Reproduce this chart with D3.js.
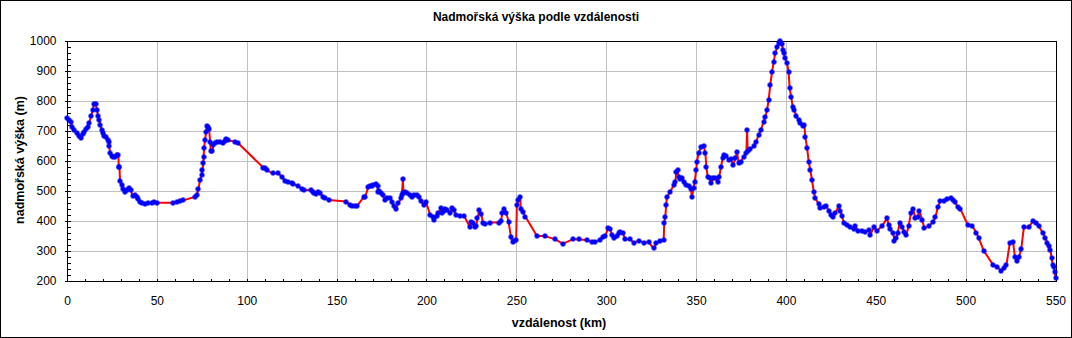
<!DOCTYPE html>
<html>
<head>
<meta charset="utf-8">
<script src="https://cdn.jsdelivr.net/npm/d3@7"></script>
<style>
  html, body { margin: 0; padding: 0; background: #fff; }
  svg { display: block; }
  text { font-family: "Liberation Sans", Arial, sans-serif; fill: #000; }
</style>
</head>
<body>
<svg id="chart" width="1072" height="338"></svg>
<script>
// Elevation profile: distance along the route (km) and altitude (m)
const distanceKm = [
  0, 1.1, 2.2, 3.0, 3.9, 5.4, 6.7, 7.6, 8.7, 9.6, 10.6, 11.5, 12.4, 13.4, 14.3, 15.0, 16.0, 16.7, 17.3, 18.0,
  18.6, 19.3, 19.9, 20.8, 21.7, 22.6, 23.2, 23.4, 24.0, 24.9, 25.8, 26.7, 27.6, 28.6, 28.8, 29.2, 29.5, 30.4, 31.4, 32.3,
  33.2, 34.5, 35.4, 36.6, 37.9, 38.8, 39.7, 40.6, 41.6, 43.4, 45.3, 47.1, 48.6, 49.9, 59.2, 61.0, 62.9, 64.8, 71.3, 72.2,
  73.1, 74.0, 75.0, 75.3, 75.9, 76.0, 76.3, 76.8, 77.4, 78.0, 78.5, 79.1, 79.6, 80.0, 80.9, 81.5, 82.4, 83.3, 85.2, 87.0,
  87.9, 88.5, 89.8, 93.5, 95.0, 109.3, 110.2, 111.1, 114.5, 117.6, 119.5, 121.4, 123.2, 125.1, 125.6, 128.4, 130.6, 131.6, 135.6, 136.8,
  137.7, 138.6, 139.5, 140.8, 142.7, 143.6, 145.8, 155.3, 157.5, 158.5, 160.3, 161.3, 165.0, 165.9, 167.7, 168.7, 169.6, 170.5, 171.8, 172.8,
  172.9, 173.5, 174.6, 175.7, 177.0, 178.3, 179.8, 180.7, 181.7, 183.0, 184.4, 185.7, 186.3, 186.9, 187.2, 188.2, 189.1, 191.0, 191.9, 192.8,
  194.7, 196.0, 196.9, 198.4, 199.7, 202.1, 203.4, 204.3, 205.8, 206.7, 208.0, 208.6, 209.5, 210.4, 211.4, 213.2, 214.1, 215.1, 216.5, 218.8,
  221.0, 224.0, 224.9, 225.8, 226.8, 227.7, 228.4, 229.4, 230.5, 231.4, 232.7, 235.1, 240.1, 241.4, 242.3, 243.3, 244.4, 245.7, 247.0, 247.9,
  248.8, 249.9, 250.3, 251.2, 252.2, 252.5, 253.7, 255.0, 261.5, 266.1, 271.7, 275.9, 281.5, 284.7, 289.3, 292.1, 293.9, 296.3, 298.2, 299.5,
  301.0, 302.3, 303.2, 304.5, 306.0, 306.9, 307.8, 309.3, 310.6, 313.4, 315.3, 318.4, 320.8, 323.6, 326.4, 327.9, 330.1, 332.0, 332.3, 332.9,
  333.4, 333.8, 335.7, 337.5, 338.5, 339.0, 339.8, 340.3, 341.2, 342.2, 343.1, 344.6, 345.9, 347.2, 347.7, 348.7, 349.2, 350.1, 350.5, 351.4,
  352.9, 354.2, 355.2, 355.7, 356.5, 357.6, 358.3, 359.4, 360.7, 362.0, 362.9, 363.9, 364.8, 365.7, 366.8, 368.1, 369.4, 370.6, 371.9, 372.8,
  373.7, 375.0, 376.5, 378.0, 378.4, 378.7, 380.2, 382.1, 383.5, 384.8, 386.1, 387.6, 388.6, 389.5, 390.4, 391.3, 392.3, 393.2, 394.1, 395.1,
  396.0, 396.9, 397.8, 398.4, 398.8, 399.7, 400.6, 401.5, 402.1, 402.9, 403.8, 404.7, 405.8, 407.1, 408.0, 409.3, 410.3, 410.8, 411.8, 412.7,
  413.6, 414.5, 415.5, 416.4, 418.2, 419.2, 421.0, 422.5, 423.8, 425.1, 426.2, 427.5, 429.4, 430.3, 431.2, 432.2, 434.0, 435.9, 437.7, 438.7,
  439.9, 442.4, 444.2, 446.1, 447.0, 448.9, 450.7, 453.5, 456.3, 457.2, 458.1, 459.6, 460.4, 461.5, 462.2, 463.3, 464.6, 465.9, 467.0, 468.3,
  469.6, 470.8, 472.1, 473.4, 474.3, 475.8, 477.1, 479.5, 481.9, 483.2, 484.5, 486.0, 488.2, 489.7, 491.9, 493.0, 494.3, 495.6, 497.1, 501.2,
  503.6, 506.0, 507.3, 510.1, 515.3, 517.5, 519.8, 521.2, 522.7, 524.6, 526.4, 527.4, 528.7, 529.6, 530.9, 532.4, 535.1, 537.6, 539.4, 540.7,
  543.1, 544.4, 545.4, 546.3, 547.2, 547.8, 548.5, 549.0, 549.6, 550.0
];
const altitudeM = [
  743, 735, 727, 713, 702, 691, 682, 675, 687, 696, 705, 713, 726, 748, 768, 788, 788, 768, 749, 735,
  718, 702, 691, 683, 677, 668, 663, 649, 626, 615, 611, 613, 619, 619, 579, 577, 533, 518, 504, 496,
  502, 509, 502, 482, 485, 479, 472, 463, 457, 455, 457, 459, 462, 459, 459, 463, 466, 467, 479, 485,
  504, 535, 552, 568, 591, 613, 641, 668, 696, 716, 713, 704, 663, 633, 633, 652, 657, 661, 661, 657,
  666, 673, 667, 663, 659, 576, 574, 568, 557, 557, 546, 533, 527, 524, 522, 516, 506, 502, 502, 495,
  491, 487, 495, 491, 479, 475, 468, 463, 452, 448, 448, 448, 477, 479, 513, 515, 515, 518, 522, 515,
  496, 499, 493, 485, 468, 474, 474, 463, 448, 438, 457, 474, 485, 537, 493, 496, 491, 485, 477, 485,
  485, 479, 466, 452, 463, 418, 413, 402, 415, 426, 441, 426, 433, 437, 435, 424, 441, 435, 418, 415,
  415, 379, 396, 391, 377, 382, 407, 435, 422, 393, 388, 393, 393, 399, 424, 437, 426, 396, 344, 328,
  332, 335, 452, 468, 479, 437, 429, 413, 348, 348, 337, 322, 338, 337, 335, 328, 329, 335, 346, 348,
  374, 371, 352, 341, 348, 357, 363, 359, 337, 337, 326, 333, 326, 328, 307, 324, 333, 335, 391, 413,
  452, 479, 496, 518, 529, 563, 568, 546, 537, 541, 529, 518, 515, 504, 479, 507, 529, 568, 596, 626,
  644, 648, 626, 579, 546, 541, 524, 541, 541, 529, 546, 579, 607, 618, 615, 602, 604, 585, 607, 629,
  593, 596, 613, 624, 702, 633, 637, 648, 663, 685, 702, 729, 746, 768, 802, 852, 896, 929, 959, 977,
  991, 1000, 988, 968, 957, 941, 924, 896, 841, 813, 779, 768, 748, 735, 724, 715, 718, 679, 641, 596,
  568, 535, 496, 474, 455, 441, 446, 448, 433, 418, 411, 426, 448, 433, 415, 393, 385, 377, 371, 382,
  366, 366, 363, 368, 352, 377, 366, 382, 407, 385, 372, 357, 333, 341, 359, 393, 379, 363, 352, 382,
  426, 438, 407, 413, 432, 402, 374, 382, 396, 411, 444, 466, 466, 471, 476, 468, 461, 444, 438, 385,
  382, 359, 341, 299, 252, 246, 233, 241, 252, 326, 329, 279, 266, 277, 304, 377, 377, 399, 393, 382,
  357, 341, 326, 315, 302, 274, 252, 244, 229, 207
];

const xTicks = [0, 50, 100, 150, 200, 250, 300, 350, 400, 450, 500, 550];
const yTicks = [200, 300, 400, 500, 600, 700, 800, 900, 1000];

const titleText = "Nadmořská výška podle vzdálenosti";
const xTitle = "vzdálenost (km)";
const yTitle = "nadmořská výška (m)";

const W = 1072, H = 338;
const margin = { left: 67, top: 40.5, right: 1072 - 1055.5, bottom: 338 - 280.5 };

const svg = d3.select("#chart");

// outer frame of the picture
svg.append("rect")
  .attr("x", 0.5).attr("y", 0.5)
  .attr("width", W - 1).attr("height", H - 1)
  .attr("fill", "#fff").attr("stroke", "#000").attr("stroke-width", 1);

const x = d3.scaleLinear().domain([0, 550]).range([margin.left, W - margin.right]);
const y = d3.scaleLinear().domain([200, 1000]).range([H - margin.bottom, margin.top]);

// grid
const grid = svg.append("g").attr("stroke", "#c0c0c0").attr("stroke-width", 1)
  .attr("shape-rendering", "crispEdges");
grid.selectAll("line.gx").data(xTicks.slice(1, -1)).join("line")
  .attr("x1", d => Math.round(x(d)) + 0.5).attr("x2", d => Math.round(x(d)) + 0.5)
  .attr("y1", y(1000)).attr("y2", y(200));
grid.selectAll("line.gy").data(yTicks.slice(1, -1)).join("line")
  .attr("y1", d => Math.round(y(d)) + 0.5).attr("y2", d => Math.round(y(d)) + 0.5)
  .attr("x1", x(0)).attr("x2", x(550));

// minor ticks pointing into the plot
const minorY = d3.range(200, 1001, 20);
const minorX = d3.range(0, 551, 10);
svg.append("g")
  .attr("transform", `translate(${Math.round(x(0)) + 0.5},0)`)
  .call(d3.axisLeft(y).tickValues(minorY).tickSize(-3).tickFormat(""))
  .call(g => g.select(".domain").remove())
  .attr("shape-rendering", "crispEdges");
svg.append("g")
  .attr("transform", `translate(0,${Math.round(y(200)) + 0.5})`)
  .call(d3.axisBottom(x).tickValues(minorX).tickSize(-3).tickFormat(""))
  .call(g => g.select(".domain").remove())
  .attr("shape-rendering", "crispEdges");

// labelled axes
const yAxis = svg.append("g")
  .attr("transform", `translate(${Math.round(x(0)) + 0.5},0)`)
  .call(d3.axisLeft(y).tickValues(yTicks).tickFormat(d3.format("d"))
    .tickSizeInner(3).tickSizeOuter(0).tickPadding(8))
  .attr("shape-rendering", "crispEdges");
yAxis.select(".domain").remove();
yAxis.selectAll("text").attr("font-size", 12).attr("font-family", "Liberation Sans, Arial, sans-serif");

const xAxis = svg.append("g")
  .attr("transform", `translate(0,${Math.round(y(200)) + 0.5})`)
  .call(d3.axisBottom(x).tickValues(xTicks).tickFormat(d3.format("d"))
    .tickSizeInner(0).tickSizeOuter(0).tickPadding(15))
  .attr("shape-rendering", "crispEdges");
xAxis.select(".domain").remove();
xAxis.selectAll("text").attr("font-size", 12).attr("font-family", "Liberation Sans, Arial, sans-serif");

// plot frame
svg.append("rect")
  .attr("x", Math.round(x(0)) + 0.5).attr("y", Math.round(y(1000)) + 0.5)
  .attr("width", Math.round(x(550)) - Math.round(x(0)))
  .attr("height", Math.round(y(200)) - Math.round(y(1000)))
  .attr("fill", "none").attr("stroke", "#000").attr("stroke-width", 1)
  .attr("shape-rendering", "crispEdges");

// profile line
const pts = distanceKm.map((d, i) => [d, altitudeM[i]]);
const line = d3.line().x(d => x(d[0])).y(d => y(d[1]));
svg.append("path")
  .datum(pts)
  .attr("d", line)
  .attr("fill", "none")
  .attr("stroke", "#ff0000")
  .attr("stroke-width", 2)
  .attr("stroke-linejoin", "round");

// point markers (small filled octagons)
const marker = "M-1.5,-2.5h3v1h1v3h-1v1h-3v-1h-1v-3h1z";
svg.append("g").attr("fill", "#0000ff")
  .selectAll("path").data(pts).join("path")
  .attr("d", marker)
  .attr("transform", d => `translate(${Math.round(x(d[0]))},${Math.round(y(d[1]))})`);

// titles
svg.append("text")
  .attr("x", 536).attr("y", 21)
  .attr("text-anchor", "middle")
  .attr("font-size", 12).attr("font-weight", "bold")
  .text(titleText);

svg.append("text")
  .attr("x", 559).attr("y", 327)
  .attr("text-anchor", "middle")
  .attr("font-size", 12.5).attr("font-weight", "bold")
  .text(xTitle);

svg.append("text")
  .attr("transform", "translate(23.5,160) rotate(-90)")
  .attr("text-anchor", "middle")
  .attr("font-size", 12.5).attr("font-weight", "bold")
  .text(yTitle);
</script>
</body>
</html>
